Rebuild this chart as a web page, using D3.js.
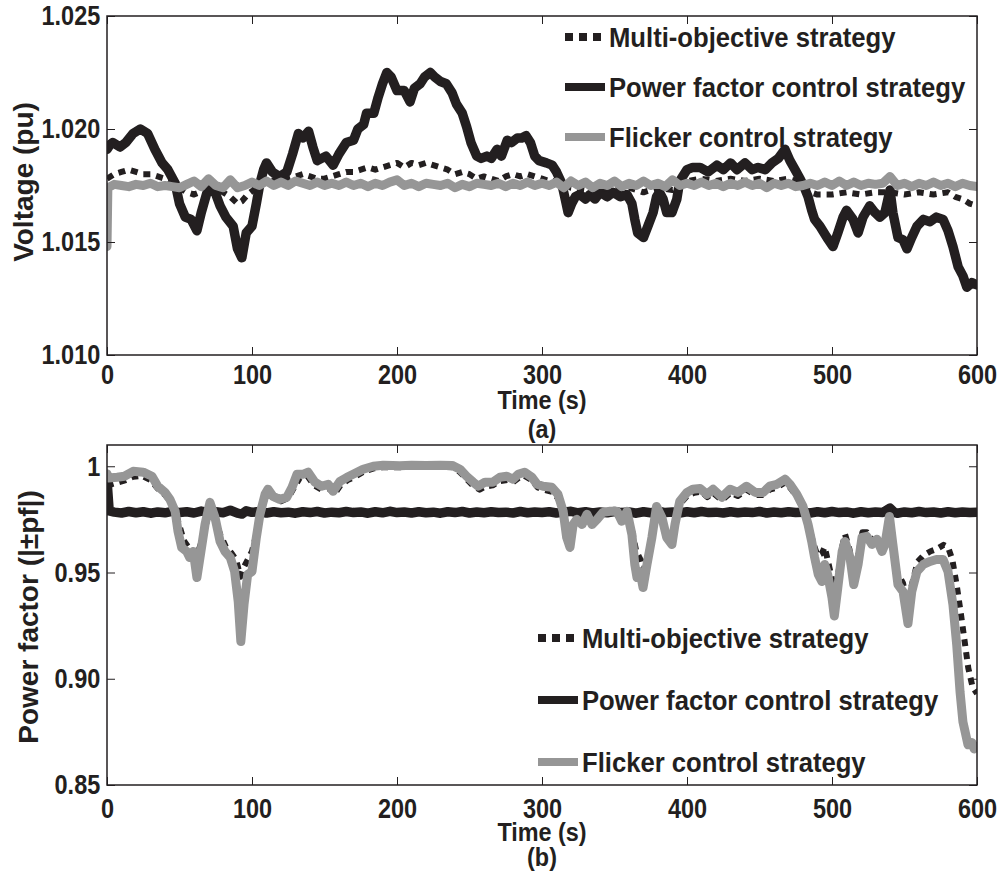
<!DOCTYPE html>
<html>
<head>
<meta charset="utf-8">
<script src="https://cdn.jsdelivr.net/npm/d3@7"></script>
<style>
body { margin: 0; background: #fff; }
text { font-family: "Liberation Sans", Arial, sans-serif; font-weight: bold; fill: #231f20; }
</style>
</head>
<body>
<svg id="chart" width="998" height="872"></svg>
<script>
// ---- axis ticks ----
const timeTicks = [0, 100, 200, 300, 400, 500, 600];
const voltTicks = [1.010, 1.015, 1.020, 1.025];
const voltTickLabels = ["1.010", "1.015", "1.020", "1.025"];
const pfTicks = [0.85, 0.90, 0.95, 1.00];
const pfTickLabels = ["0.85", "0.90", "0.95", "1"];
const seriesNames = ["Multi-objective strategy", "Power factor control strategy", "Flicker control strategy"];

// ---- (a) voltage, [time s, pu] ----
const voltPF = [[0,1.0191],[2,1.0193],[4,1.0194],[9,1.0192],[13,1.0194],[18,1.0198],[23,1.0200],[28,1.0198],[33,1.0191],[38,1.0185],[42,1.0182],[47,1.0176],[50,1.0167],[54,1.0161],[58,1.0160],[62,1.0155],[65,1.0163],[69,1.0172],[71,1.0177],[74,1.0173],[78,1.0166],[82,1.0161],[87,1.0157],[90,1.0147],[93,1.0143],[96,1.0154],[100,1.0157],[103,1.0167],[105.5,1.0176],[108,1.0182],[110,1.0185],[114,1.0181],[119,1.0179],[124,1.0181],[128,1.0189],[132,1.0198],[135,1.0196],[139,1.0199],[142,1.0192],[145,1.0186],[151,1.0188],[156,1.0184],[160,1.0189],[165,1.0194],[170,1.0195],[173,1.0200],[177,1.0202],[179,1.0207],[184,1.0207],[187,1.0214],[190,1.0220],[193,1.0225],[196,1.0223],[200,1.0217],[205,1.0217],[209,1.0212],[212,1.0218],[216,1.0220],[219,1.0223],[223,1.0225],[226,1.0223],[230,1.0221],[234,1.0220],[238,1.0216],[241,1.0211],[245,1.0207],[248,1.0201],[251,1.0194],[255,1.0188],[258,1.0187],[262,1.0188],[265,1.0187],[269,1.0191],[272,1.0188],[276,1.0195],[279,1.0194],[283,1.0196],[286,1.0196],[289,1.0197],[292,1.0194],[295,1.0188],[298,1.0186],[303,1.0185],[307,1.0184],[310,1.0181],[313.6,1.0176],[316,1.0169],[318,1.0163],[320.5,1.0167],[323,1.0170],[326,1.0171],[330,1.0169],[333,1.0171],[336.5,1.0169],[340,1.0172],[345,1.0170],[349,1.0172],[354,1.0170],[358.6,1.0171],[362,1.0167],[364,1.0160],[366,1.0154],[370,1.0152],[373,1.0157],[376.6,1.0163],[379,1.0170],[381,1.0172],[383.5,1.0169],[386,1.0163],[389.6,1.0163],[393,1.0169],[395,1.0177],[400,1.0182],[404,1.0183],[409,1.0183],[414.5,1.0181],[420.6,1.0184],[425,1.0182],[430,1.0185],[434.5,1.0182],[440,1.0185],[445,1.0182],[449,1.0183],[454,1.0182],[458.6,1.0185],[463,1.0187],[467.6,1.0191],[471,1.0186],[474.5,1.0182],[478,1.0178],[481,1.0174],[483.5,1.0170],[486,1.0164],[488,1.0160],[491.7,1.0157],[496.5,1.0152],[500.7,1.0148],[504,1.0154],[507.6,1.0161],[510,1.0164],[514.5,1.0160],[518,1.0154],[521.4,1.0161],[526,1.0166],[529.6,1.0163],[533,1.0161],[536.5,1.0163],[540,1.0173],[542,1.0163],[545.5,1.0152],[549,1.0151],[551.7,1.0147],[555,1.0152],[558.6,1.0157],[563,1.0160],[567.6,1.0159],[572,1.0161],[576.6,1.0160],[580,1.0155],[583.4,1.0148],[587,1.0139],[590.3,1.0135],[593,1.0130],[596.5,1.0132],[600,1.0131]];

const voltMulti = [[0,1.0178],[5,1.0180],[10,1.0181],[15,1.0182],[20,1.0181],[25,1.0180],[30,1.0180],[35,1.0179],[40,1.0178],[45,1.0176],[50,1.0174],[55,1.0172],[60,1.0171],[64,1.0172],[68,1.0175],[71,1.0177],[75,1.0175],[80,1.0172],[85,1.0170],[90,1.0167],[93,1.0168],[97,1.0171],[101,1.0173],[105,1.0176],[110,1.0178],[115,1.0177],[120,1.0177],[125,1.0178],[130,1.0179],[135,1.0180],[140,1.0179],[145,1.0178],[150,1.0178],[155,1.0179],[160,1.0180],[165,1.0181],[170,1.0181],[175,1.0182],[180,1.0183],[185,1.0182],[190,1.0183],[195,1.0184],[200,1.0185],[205,1.0183],[210,1.0185],[215,1.0184],[220,1.0185],[225,1.0184],[230,1.0183],[235,1.0182],[240,1.0180],[245,1.0181],[250,1.0180],[255,1.0178],[260,1.0179],[265,1.0178],[270,1.0177],[275,1.0179],[280,1.0180],[285,1.0179],[290,1.0180],[295,1.0179],[300,1.0178],[305,1.0177],[310,1.0177],[315,1.0176],[320,1.0174],[330,1.0173],[340,1.0174],[350,1.0173],[360,1.0174],[365,1.0173],[370,1.0172],[375,1.0173],[380,1.0174],[390,1.0173],[395,1.0175],[400,1.0177],[410,1.0178],[420,1.0177],[430,1.0178],[440,1.0177],[450,1.0178],[460,1.0177],[470,1.0178],[475,1.0177],[480,1.0175],[485,1.0172],[490,1.0171],[500,1.0171],[510,1.0172],[520,1.0171],[530,1.0172],[540,1.0172],[550,1.0171],[560,1.0172],[570,1.0171],[580,1.0172],[585,1.0170],[590,1.0169],[595,1.0167],[600,1.0166]];

const voltFlicker = [[0,1.0148],[0.6,1.0174],[5,1.01755],[10,1.0175],[15,1.01745],[20,1.01755],[25,1.0175],[30,1.0176],[35,1.01745],[40,1.0175],[45,1.01745],[50,1.0174],[55,1.01755],[60,1.0177],[65,1.01745],[70,1.0178],[75,1.0175],[80,1.0174],[85,1.01775],[90,1.0174],[95,1.0175],[100,1.01765],[105,1.0175],[110,1.0177],[115,1.0175],[120,1.01765],[125,1.0175],[130,1.0177],[135,1.0176],[140,1.0175],[145,1.01765],[150,1.0175],[155,1.0176],[160,1.0175],[165,1.01765],[170,1.0175],[175,1.0176],[180,1.01745],[185,1.0176],[190,1.0175],[195,1.01765],[200,1.01775],[205,1.0175],[210,1.0176],[215,1.01745],[220,1.0176],[225,1.01755],[230,1.0175],[235,1.0176],[240,1.0174],[245,1.01755],[250,1.01745],[255,1.0176],[260,1.01755],[265,1.0175],[270,1.0176],[275,1.01745],[280,1.0176],[285,1.0175],[290,1.01765],[295,1.0175],[300,1.0176],[305,1.0175],[310,1.01765],[315,1.0174],[320,1.0177],[325,1.0175],[330,1.01765],[335,1.0174],[340,1.0176],[345,1.0175],[350,1.0177],[355,1.01745],[360,1.0176],[365,1.0175],[370,1.0177],[375,1.0175],[380,1.0176],[385,1.01745],[390,1.01775],[395,1.0175],[400,1.0176],[405,1.0175],[410,1.01765],[415,1.0175],[420,1.0176],[425,1.01745],[430,1.0176],[435,1.0175],[440,1.01765],[445,1.0175],[450,1.0176],[455,1.0174],[460,1.0176],[465,1.0175],[470,1.0176],[475,1.01745],[480,1.0175],[485,1.0176],[490,1.0175],[495,1.01765],[500,1.0175],[505,1.0177],[510,1.0175],[515,1.01765],[520,1.0175],[525,1.0176],[530,1.01755],[535,1.0176],[540,1.0179],[545,1.0175],[550,1.0176],[555,1.01745],[560,1.0176],[565,1.0175],[570,1.01765],[575,1.0175],[580,1.0176],[585,1.01745],[590,1.0176],[595,1.0175],[600,1.01745]];

// ---- (b) power factor, [time s, |pf|] ----
const pfPF = [[0,0.9935],[1.5,0.9790],[5,0.9784],[10,0.9780],[15,0.9787],[20,0.9781],[25,0.9786],[30,0.9779],[35,0.9785],[40,0.9781],[45,0.9788],[50,0.9782],[55,0.9786],[60,0.9780],[65,0.9789],[70,0.9783],[75,0.9786],[80,0.9781],[85,0.9793],[90,0.9779],[93,0.9775],[96,0.9790],[100,0.9783],[105,0.9787],[110,0.9780],[115,0.9786],[120,0.9781],[125,0.9784],[130,0.9779],[135,0.9786],[140,0.9782],[145,0.9787],[150,0.9780],[155,0.9784],[160,0.9781],[165,0.9787],[170,0.9782],[175,0.9785],[180,0.9779],[185,0.9786],[190,0.9781],[195,0.9788],[200,0.9782],[205,0.9785],[210,0.9780],[215,0.9786],[220,0.9781],[225,0.9784],[230,0.9779],[235,0.9786],[240,0.9782],[245,0.9787],[250,0.9780],[255,0.9785],[260,0.9781],[265,0.9786],[270,0.9782],[275,0.9784],[280,0.9780],[285,0.9787],[290,0.9781],[295,0.9785],[300,0.9782],[305,0.9786],[310,0.9780],[315,0.9784],[320,0.9788],[325,0.9781],[330,0.9786],[335,0.9780],[340,0.9785],[345,0.9781],[350,0.9787],[355,0.9782],[360,0.9785],[365,0.9779],[370,0.9786],[375,0.9781],[380,0.9789],[385,0.9782],[390,0.9785],[395,0.9780],[400,0.9786],[405,0.9781],[410,0.9787],[415,0.9782],[420,0.9784],[425,0.9780],[430,0.9786],[435,0.9781],[440,0.9785],[445,0.9782],[450,0.9787],[455,0.9780],[460,0.9785],[465,0.9781],[470,0.9786],[475,0.9782],[480,0.9784],[485,0.9780],[490,0.9786],[495,0.9781],[500,0.9787],[505,0.9782],[510,0.9785],[515,0.9779],[520,0.9786],[525,0.9781],[530,0.9785],[535,0.9782],[540,0.9803],[543,0.9783],[545,0.9779],[550,0.9785],[555,0.9781],[560,0.9787],[565,0.9782],[570,0.9785],[575,0.9780],[580,0.9786],[585,0.9781],[590,0.9785],[595,0.9782],[600,0.9784]];

const pfMulti = [[0,0.9905],[3,0.9915],[8,0.9925],[13,0.9935],[18,0.9950],[24,0.9955],[30,0.9935],[35,0.9895],[40,0.9865],[44,0.9830],[47,0.9790],[50,0.9720],[53,0.9650],[57,0.9610],[60,0.9600],[62,0.9580],[65,0.9640],[68,0.9720],[71,0.9800],[74,0.9760],[78,0.9680],[82,0.9620],[86,0.9590],[89,0.9560],[92,0.9480],[94,0.9520],[97,0.9560],[100,0.9600],[103,0.9680],[106,0.9780],[109,0.9850],[112,0.9870],[116,0.9845],[120,0.9835],[125,0.9850],[129,0.9900],[133,0.9945],[138,0.9955],[143,0.9910],[148,0.9890],[153,0.9895],[157,0.9870],[161,0.9910],[166,0.9935],[171,0.9950],[177,0.9975],[184,0.9990],[190,0.9995],[200,0.9995],[210,0.9998],[220,0.9996],[230,0.9997],[238,0.9995],[243,0.9975],[248,0.9940],[253,0.9905],[257,0.9890],[261,0.9905],[266,0.9910],[271,0.9930],[276,0.9935],[280,0.9925],[284,0.9945],[288,0.9955],[293,0.9935],[297,0.9900],[301,0.9890],[307,0.9880],[311,0.9850],[315,0.9780],[318,0.9680],[320,0.9650],[322,0.9720],[325,0.9740],[328,0.9730],[331,0.9765],[335,0.9730],[338,0.9745],[342,0.9775],[347,0.9780],[352,0.9780],[355,0.9745],[359,0.9780],[362,0.9700],[365,0.9600],[368,0.9560],[370,0.9510],[373,0.9580],[376,0.9680],[379,0.9790],[383,0.9750],[386,0.9670],[390,0.9640],[392,0.9720],[395,0.9820],[400,0.9860],[405,0.9875],[410,0.9880],[414,0.9855],[418,0.9875],[424,0.9840],[430,0.9875],[435,0.9860],[441,0.9890],[447,0.9865],[453,0.9865],[457,0.9890],[462,0.9900],[468,0.9925],[471,0.9900],[476,0.9855],[480,0.9800],[484,0.9720],[487,0.9640],[490,0.9580],[493,0.9590],[495,0.9620],[497,0.9560],[500,0.9470],[502,0.9400],[504,0.9480],[507,0.9620],[509,0.9680],[512,0.9610],[515,0.9500],[518,0.9580],[521,0.9690],[524,0.9690],[528,0.9650],[531,0.9670],[535,0.9620],[537,0.9645],[540,0.9760],[542,0.9650],[545,0.9500],[549,0.9450],[552,0.9330],[555,0.9440],[559,0.9550],[563,0.9580],[568,0.9600],[572,0.9610],[577,0.9630],[580,0.9620],[583,0.9560],[586,0.9440],[589,0.9300],[591,0.9200],[594,0.9050],[597,0.8960],[600,0.8930]];

const pfFlicker = [[0,0.9965],[1,0.9945],[7,0.9948],[12,0.9953],[18,0.9976],[25,0.9972],[31,0.9953],[35,0.9906],[40,0.9877],[43.4,0.9844],[47,0.9788],[49,0.9693],[51.5,0.9618],[55,0.9599],[57,0.9571],[59.5,0.9599],[62,0.9476],[65.5,0.9632],[67.6,0.9726],[71,0.9830],[74.5,0.9759],[78,0.9646],[81.4,0.9599],[85,0.9571],[88,0.9505],[90.5,0.9363],[92.3,0.9175],[94.5,0.9349],[97,0.9491],[100,0.9505],[103,0.9665],[105.5,0.9774],[109,0.9868],[111,0.9892],[114.5,0.9858],[119,0.9844],[124,0.9854],[127.6,0.9901],[131,0.9962],[135,0.9962],[138.7,0.9972],[143.4,0.9925],[148,0.9906],[152.6,0.9915],[156,0.9882],[160.7,0.9929],[165.5,0.9948],[169.7,0.9962],[176.6,0.9986],[183.6,1.0000],[190.5,1.0005],[197,1.0003],[202,1.0002],[210,1.0005],[220,1.0004],[230,1.0005],[238,1.0004],[243.4,0.9986],[248,0.9953],[252.6,0.9925],[256,0.9906],[260.7,0.9925],[266,0.9925],[271,0.9948],[275.8,0.9953],[280,0.9939],[283.6,0.9962],[288,0.9972],[293,0.9948],[296.6,0.9915],[300.7,0.9906],[306.7,0.9901],[311,0.9868],[314.6,0.9788],[317,0.9665],[319.3,0.9618],[321.5,0.9726],[324,0.9750],[327.6,0.9726],[331,0.9774],[334.5,0.9726],[338,0.9750],[342,0.9783],[347,0.9788],[351.7,0.9788],[355,0.9741],[358.6,0.9788],[362,0.9679],[364,0.9538],[365.5,0.9476],[367.6,0.9505],[369.7,0.9429],[372.4,0.9538],[375.8,0.9665],[379,0.9811],[382.7,0.9759],[386,0.9665],[389.6,0.9632],[391.7,0.9726],[395,0.9835],[400,0.9877],[404,0.9892],[409,0.9895],[413.7,0.9868],[418,0.9892],[424,0.9854],[429.7,0.9892],[435,0.9877],[441,0.9906],[447,0.9877],[452.6,0.9877],[457,0.9906],[462,0.9915],[467.6,0.9939],[471,0.9915],[475.7,0.9868],[480,0.9811],[483.5,0.9726],[486,0.9646],[488,0.9571],[490.5,0.9491],[493,0.9458],[495,0.9538],[497,0.9491],[500,0.9382],[501.6,0.9295],[504,0.9429],[507,0.9599],[509,0.9646],[512.4,0.9571],[515,0.9443],[518,0.9538],[520.7,0.9665],[524,0.9670],[527.6,0.9632],[531,0.9656],[534.5,0.9599],[536.5,0.9632],[539.6,0.9764],[542,0.9632],[545.5,0.9443],[549,0.9410],[552.4,0.9260],[555,0.9410],[558.6,0.9505],[563,0.9538],[567.6,0.9552],[572,0.9561],[576.6,0.9561],[580,0.9505],[583.4,0.9349],[586,0.9160],[588.3,0.8939],[590.3,0.8797],[593.8,0.8689],[596.5,0.8700],[598,0.8670],[600,0.8680]];

const ink = "#231f20";
const grey = "#969696";
const svg = d3.select("#chart");

const x = d3.scaleLinear().domain([0, 600]).range([107, 977]);

// text in the figure is a narrow bold face, so squeeze it horizontally
function place(sel, px, py, k) {
  return sel.attr("transform", `translate(${px},${py}) scale(${k},1)`);
}

function drawPanel(p) {
  const y = d3.scaleLinear().domain(p.yDomain).range([p.bottom, p.top]);
  const g = svg.append("g");

  g.append("clipPath").attr("id", "clip-" + p.id)
    .append("rect")
    .attr("x", x(0)).attr("y", p.top)
    .attr("width", x(600) - x(0)).attr("height", p.bottom - p.top);

  const line = d3.line().x(d => x(d[0])).y(d => y(d[1]));

  // solid black underneath, dashed over it, grey on top
  const lines = g.append("g").attr("clip-path", `url(#clip-${p.id})`);
  p.drawOrder.forEach(i => {
    const s = p.series[i];
    lines.append("path")
      .datum(s.data)
      .attr("d", line)
      .attr("fill", "none")
      .attr("stroke", s.color)
      .attr("stroke-width", s.width)
      .attr("stroke-dasharray", s.dash || null)
      .attr("stroke-linejoin", "round")
      .attr("stroke-linecap", s.dash ? "butt" : "round");
  });

  // box with inward ticks on every side
  const bottomAxis = g.append("g").attr("transform", `translate(0,${p.bottom})`)
    .call(d3.axisBottom(x).tickValues(timeTicks).tickSizeInner(-8).tickSizeOuter(0).tickPadding(p.xPad));
  g.append("g").attr("transform", `translate(0,${p.top})`)
    .call(d3.axisTop(x).tickValues(timeTicks).tickSizeInner(-8).tickSizeOuter(0).tickFormat(""));
  const leftAxis = g.append("g").attr("transform", `translate(${x(0)},0)`)
    .call(d3.axisLeft(y).tickValues(p.yTicks).tickSizeInner(-8).tickSizeOuter(0).tickPadding(8)
      .tickFormat((d, i) => p.yLabels[i]));
  g.append("g").attr("transform", `translate(${x(600)},0)`)
    .call(d3.axisRight(y).tickValues(p.yTicks).tickSizeInner(-8).tickSizeOuter(0).tickFormat(""));

  g.selectAll(".domain").remove();
  g.selectAll(".tick line").attr("stroke", ink).attr("stroke-width", 1);
  g.selectAll(".tick text").attr("font-size", 28).attr("fill", ink)
    .attr("font-family", null);
  bottomAxis.selectAll(".tick text").attr("transform", "scale(0.84,1)");
  leftAxis.selectAll(".tick text").attr("transform", "scale(0.84,1)");

  g.append("rect")
    .attr("x", x(0)).attr("y", p.top)
    .attr("width", x(600) - x(0)).attr("height", p.bottom - p.top)
    .attr("fill", "none").attr("stroke", ink).attr("stroke-width", 1.5);

  // axis titles
  g.append("text")
    .attr("transform", `translate(${p.yTitleX},${p.yTitleY}) rotate(-90)`)
    .attr("text-anchor", "middle").attr("font-size", 28)
    .text(p.yTitle);
  place(g.append("text"), (x(0) + x(600)) / 2, p.xTitleY, 0.9)
    .attr("text-anchor", "middle").attr("font-size", 26)
    .text("Time (s)");
  place(g.append("text"), (x(0) + x(600)) / 2, p.tagY, 0.9)
    .attr("text-anchor", "middle").attr("font-size", 26)
    .text(p.tag);

  // legend rows
  const leg = g.append("g");
  p.series.forEach((s, i) => {
    const by = p.legY[i];
    leg.append("line")
      .attr("x1", p.legX).attr("x2", p.legX + 40)
      .attr("y1", by - 10).attr("y2", by - 10)
      .attr("stroke", s.color).attr("stroke-width", 8)
      .attr("stroke-dasharray", s.dash ? "8,6" : null);
    place(leg.append("text"), p.legX + 44, by, 0.9)
      .attr("font-size", 28.5)
      .text(s.name);
  });
}

function seriesFor(multi, pf, flicker) {
  return [
    { name: seriesNames[0], data: multi, color: ink, width: 6, dash: "7,6" },
    { name: seriesNames[1], data: pf, color: ink, width: 9.5 },
    { name: seriesNames[2], data: flicker, color: grey, width: 9 }
  ];
}

drawPanel({
  id: "a", top: 16, bottom: 355, yDomain: [1.010, 1.025],
  yTicks: voltTicks, yLabels: voltTickLabels, xPad: 9,
  yTitle: "Voltage (pu)", yTitleX: 33, yTitleY: 182,
  xTitleY: 409, tag: "(a)", tagY: 438,
  legX: 565, legY: [47, 97, 147],
  series: seriesFor(voltMulti, voltPF, voltFlicker),
  drawOrder: [1, 0, 2]
});

drawPanel({
  id: "b", top: 445, bottom: 785, yDomain: [0.85, 1.01],
  yTicks: pfTicks, yLabels: pfTickLabels, xPad: 13,
  yTitle: "Power factor (|±pf|)", yTitleX: 38, yTitleY: 617,
  xTitleY: 841, tag: "(b)", tagY: 866,
  legX: 538, legY: [648, 710, 772],
  series: seriesFor(pfMulti, pfPF, pfFlicker),
  drawOrder: [1, 0, 2]
});
</script>
</body>
</html>
